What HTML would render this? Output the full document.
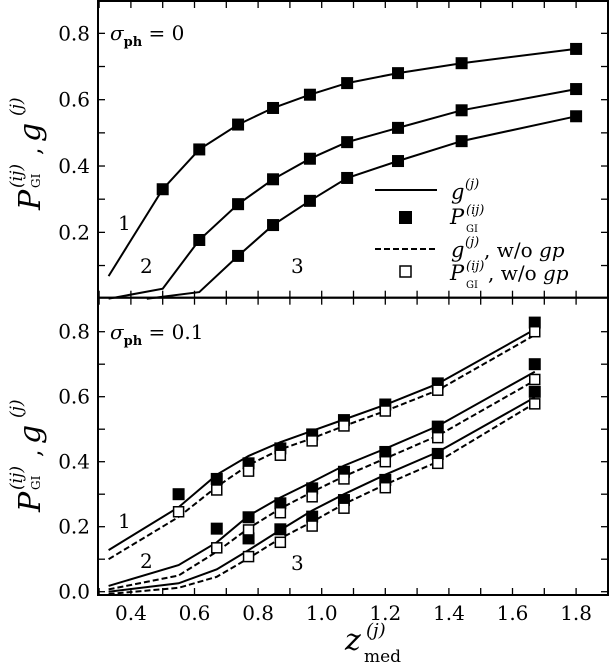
<!DOCTYPE html>
<html><head><meta charset="utf-8">
<style>
html,body{margin:0;padding:0;background:#fff;}
svg{display:block;font-family:"DejaVu Serif","Liberation Serif",serif;}
</style></head>
<body>
<svg id="chart" width="610" height="670" viewBox="0 0 610 670" xmlns="http://www.w3.org/2000/svg">
<g id="top"></g>
<g id="bot"></g>
<g id="legend">
  <line x1="375" y1="190" x2="437" y2="190" stroke="#000" stroke-width="2"/>
  <g>
    <text x="451" y="199" font-size="21" font-style="italic">g</text>
    <text x="465" y="188" font-size="13" font-style="italic">(j)</text>
  </g>
  <rect x="399" y="211" width="13" height="13" fill="#000"/>
  <g>
    <text x="450" y="224" font-size="21" font-style="italic">P</text>
    <text x="466" y="214" font-size="13" font-style="italic">(ij)</text>
    <text x="466" y="232" font-size="10">GI</text>
  </g>
  <line x1="375" y1="249" x2="437" y2="249" stroke="#000" stroke-width="2" stroke-dasharray="6,3"/>
  <g>
    <text x="451" y="257" font-size="21" font-style="italic">g</text>
    <text x="465" y="246" font-size="13" font-style="italic">(j)</text>
    <text x="484" y="257" font-size="20">, w/o <tspan font-style="italic">gp</tspan></text>
  </g>
  <rect x="400" y="266" width="11" height="11" fill="#fff" stroke="#000" stroke-width="1.5"/>
  <g>
    <text x="450" y="280" font-size="21" font-style="italic">P</text>
    <text x="466" y="270" font-size="13" font-style="italic">(ij)</text>
    <text x="466" y="288" font-size="10">GI</text>
    <text x="488" y="280" font-size="20">, w/o <tspan font-style="italic">gp</tspan></text>
  </g>
</g>
<text x="110" y="40" font-size="20"><tspan font-style="italic">σ</tspan><tspan font-size="13" font-weight="bold" dy="6">ph</tspan><tspan dy="-6"> = 0</tspan></text>
<text x="110" y="339" font-size="20"><tspan font-style="italic">σ</tspan><tspan font-size="13" font-weight="bold" dy="6">ph</tspan><tspan dy="-6"> = 0.1</tspan></text>
<text x="118" y="230" font-size="20">1</text>
<text x="140" y="273" font-size="20">2</text>
<text x="291" y="273" font-size="20">3</text>
<text x="118" y="528" font-size="20">1</text>
<text x="140" y="568" font-size="20">2</text>
<text x="291" y="570" font-size="20">3</text>
<g transform="translate(40,150) rotate(-90)">
  <text x="-60" y="0" font-size="30" font-style="italic">P</text>
  <text x="-38" y="-18" font-size="17" font-style="italic">(ij)</text>
  <text x="-38" y="0" font-size="12">GI</text>
  <text x="-5" y="0" font-size="24">,</text>
  <text x="8" y="0" font-size="30" font-style="italic">g</text>
  <text x="34" y="-18" font-size="17" font-style="italic">(j)</text>
</g>
<g transform="translate(40,452) rotate(-90)">
  <text x="-60" y="0" font-size="30" font-style="italic">P</text>
  <text x="-38" y="-18" font-size="17" font-style="italic">(ij)</text>
  <text x="-38" y="0" font-size="12">GI</text>
  <text x="-5" y="0" font-size="24">,</text>
  <text x="8" y="0" font-size="30" font-style="italic">g</text>
  <text x="34" y="-18" font-size="17" font-style="italic">(j)</text>
</g>
<g>
  <text x="345" y="650" font-size="30" font-style="italic">z</text>
  <text x="366" y="636" font-size="18" font-style="italic">(j)</text>
  <text x="364" y="662" font-size="17">med</text>
</g>
</svg>
<script>
// ---- data ----
const xTicks = [0.4,0.6,0.8,1.0,1.2,1.4,1.6,1.8];
const xTickLabels = ["0.4","0.6","0.8","1.0","1.2","1.4","1.6","1.8"];
const topYTicks = [0.2,0.4,0.6,0.8];
const topYTickLabels = ["0.2","0.4","0.6","0.8"];
const botYTicks = [0.0,0.2,0.4,0.6,0.8];
const botYTickLabels = ["0.0","0.2","0.4","0.6","0.8"];

// top panel (sigma_ph = 0)
const topLineX1 = [0.33,0.5,0.615,0.737,0.847,0.963,1.08,1.24,1.44,1.8];
const topLineY1 = [0.068,0.33,0.45,0.525,0.575,0.615,0.65,0.68,0.71,0.753];
const topLineX2 = [0.33,0.5,0.615,0.737,0.847,0.963,1.08,1.24,1.44,1.8];
const topLineY2 = [0.0,0.03,0.177,0.285,0.36,0.422,0.472,0.515,0.568,0.632];
const topLineX3 = [0.45,0.615,0.737,0.847,0.963,1.08,1.24,1.44,1.8];
const topLineY3 = [0.0,0.02,0.129,0.222,0.295,0.364,0.415,0.475,0.55];
const topMarkX1 = [0.5,0.615,0.737,0.847,0.963,1.08,1.24,1.44,1.8];
const topMarkY1 = [0.33,0.45,0.525,0.575,0.615,0.65,0.68,0.71,0.753];
const topMarkX2 = [0.615,0.737,0.847,0.963,1.08,1.24,1.44,1.8];
const topMarkY2 = [0.177,0.285,0.36,0.422,0.472,0.515,0.568,0.632];
const topMarkX3 = [0.737,0.847,0.963,1.08,1.24,1.44,1.8];
const topMarkY3 = [0.129,0.222,0.295,0.364,0.415,0.475,0.55];

// bottom panel (sigma_ph = 0.1)
const botX = [0.33,0.55,0.67,0.77,0.87,0.97,1.07,1.2,1.365,1.67];
const botSolid1 = [0.128,0.26,0.36,0.418,0.46,0.495,0.53,0.575,0.64,0.807];
const botSolid2 = [0.018,0.082,0.152,0.234,0.29,0.338,0.388,0.44,0.51,0.677];
const botSolid3 = [0.0,0.026,0.069,0.128,0.19,0.25,0.30,0.36,0.43,0.598];
const botDash1 = [0.10,0.23,0.323,0.39,0.438,0.472,0.51,0.556,0.62,0.79];
const botDash2 = [0.007,0.05,0.123,0.195,0.256,0.307,0.355,0.41,0.48,0.65];
const botDash3 = [-0.007,0.012,0.046,0.103,0.164,0.215,0.27,0.33,0.40,0.58];
const botMarkX1 = [0.55,0.67,0.77,0.87,0.97,1.07,1.2,1.365,1.67];
const botFilled1 = [0.30,0.347,0.395,0.441,0.484,0.528,0.576,0.641,0.828];
const botOpen1 = [0.246,0.313,0.371,0.42,0.464,0.51,0.556,0.62,0.80];
const botMarkX2 = [0.67,0.77,0.87,0.97,1.07,1.2,1.365,1.67];
const botFilled2 = [0.194,0.229,0.272,0.318,0.369,0.43,0.508,0.70];
const botOpen2 = [0.135,0.19,0.243,0.292,0.347,0.40,0.474,0.653];
const botMarkX3 = [0.77,0.87,0.97,1.07,1.2,1.365,1.67];
const botFilled3 = [0.164,0.192,0.231,0.282,0.344,0.424,0.615];
const botOpen3 = [0.108,0.152,0.202,0.257,0.32,0.395,0.578];

// ---- axes ----
const NS = "http://www.w3.org/2000/svg";
const L = 98, R = 608;
const xs = x => 321.7 + (x - 1.0) * 318;
const ysTop = y => 298.7 - y * 331.7;
const ysBot = y => 591.7 - y * 325;
function mk(parent, tag, attrs){ const e=document.createElementNS(NS,tag); for(const k in attrs) e.setAttribute(k,attrs[k]); parent.appendChild(e); return e; }
function pts(xarr, yarr, ys){ return xarr.map((x,i)=>xs(x).toFixed(1)+","+ys(yarr[i]).toFixed(1)).join(" "); }

function frame(g, top, bottom, ys, yt, ytl, minorFrom, minorTo, showX, name){
  const r = mk(g,"rect",{x:L,y:top,width:R-L,height:bottom-top,fill:"none",stroke:"#000","stroke-width":2});
  
  
  for(let k=3;k<=19;k++){
    const x = xs(k/10);
    const t1 = mk(g,"line",{x1:x,y1:bottom,x2:x,y2:bottom-7,stroke:"#000","stroke-width":1.3});
    
    
    const t2 = mk(g,"line",{x1:x,y1:top,x2:x,y2:top+7,stroke:"#000","stroke-width":1.3});
    
    
  }
  for(let k=minorFrom;k<=minorTo;k++){
    const y = ys(k/10);
    const t1 = mk(g,"line",{x1:L,y1:y,x2:L+7,y2:y,stroke:"#000","stroke-width":1.3});
    
    
    const t2 = mk(g,"line",{x1:R,y1:y,x2:R-7,y2:y,stroke:"#000","stroke-width":1.3});
    
    
  }
  yt.forEach((v,i)=>{
    const t = mk(g,"text",{x:L-8,y:ys(v)+7,"font-size":20,"text-anchor":"end"});
    t.textContent = ytl[i];
    
    
  });
  if(showX){
    xTicks.forEach((v,i)=>{
      const t = mk(g,"text",{x:xs(v),y:620,"font-size":20,"text-anchor":"middle"});
      t.textContent = xTickLabels[i];
      
      
    });
  }
}
function line(g, xarr, yarr, ys, dashed, name){
  const p = mk(g,"polyline",{points:pts(xarr,yarr,ys),fill:"none",stroke:"#000","stroke-width":2,"stroke-dasharray":dashed?"6,3":"none"});
  
  
}
function marks(g, xarr, yarr, ys, filled, name){
  xarr.forEach((x,i)=>{
    const s = filled?12:10;
    const m = mk(g,"rect",{x:xs(x)-s/2,y:ys(yarr[i])-s/2,width:s,height:s,fill:filled?"#000":"#fff",stroke:"#000","stroke-width":filled?0:1.5});
    
    
  });
}

const gt = document.getElementById("top"), gb = document.getElementById("bot");
line(gt, topLineX1, topLineY1, ysTop, false, "top-line-1");
line(gt, topLineX2, topLineY2, ysTop, false, "top-line-2");
line(gt, topLineX3, topLineY3, ysTop, false, "top-line-3");
marks(gt, topMarkX1, topMarkY1, ysTop, true, "top-marker-1");
marks(gt, topMarkX2, topMarkY2, ysTop, true, "top-marker-2");
marks(gt, topMarkX3, topMarkY3, ysTop, true, "top-marker-3");
frame(gt, 1, 297.7, ysTop, topYTicks, topYTickLabels, 1, 8, false, "top");
line(gb, botX, botSolid1, ysBot, false, "bottom-solid-1");
line(gb, botX, botSolid2, ysBot, false, "bottom-solid-2");
line(gb, botX, botSolid3, ysBot, false, "bottom-solid-3");
line(gb, botX, botDash1, ysBot, true, "bottom-dashed-1");
line(gb, botX, botDash2, ysBot, true, "bottom-dashed-2");
line(gb, botX, botDash3, ysBot, true, "bottom-dashed-3");
marks(gb, botMarkX1, botFilled1, ysBot, true, "bottom-filled-1");
marks(gb, botMarkX2, botFilled2, ysBot, true, "bottom-filled-2");
marks(gb, botMarkX3, botFilled3, ysBot, true, "bottom-filled-3");
marks(gb, botMarkX1, botOpen1, ysBot, false, "bottom-open-1");
marks(gb, botMarkX2, botOpen2, ysBot, false, "bottom-open-2");
marks(gb, botMarkX3, botOpen3, ysBot, false, "bottom-open-3");
frame(gb, 297.7, 595, ysBot, botYTicks, botYTickLabels, 0, 8, true, "bottom");
</script>
</body></html>
